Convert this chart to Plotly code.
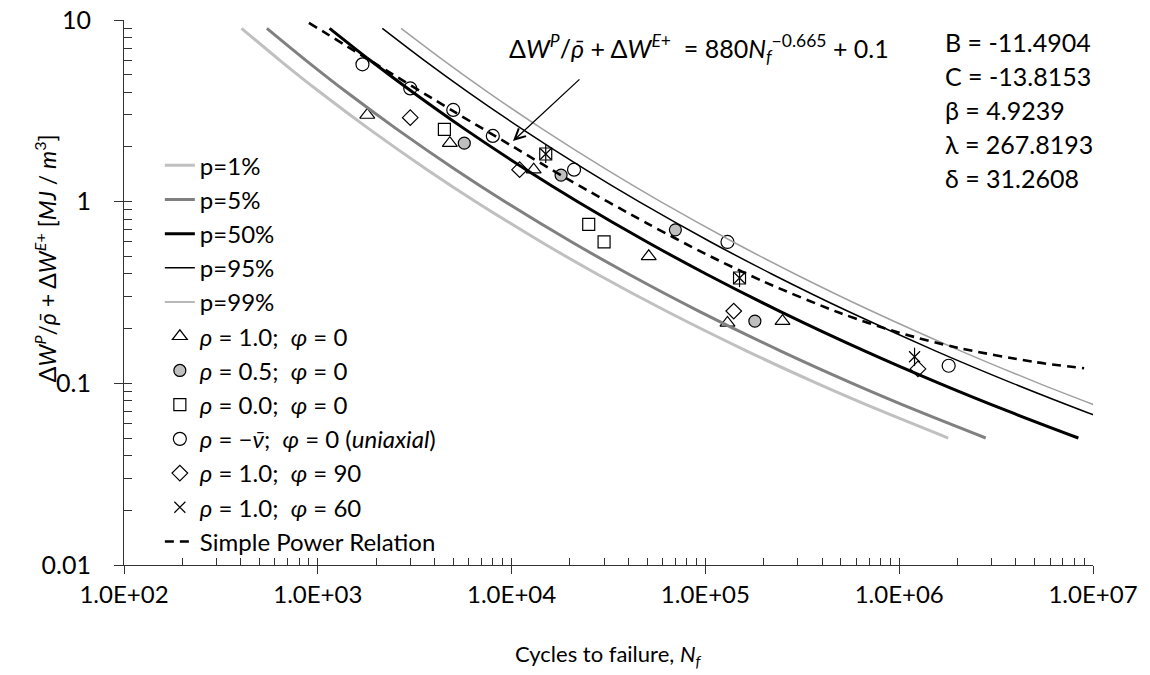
import plotly.graph_objects as go

FONT = "Lato"

# Energy levels (MJ/m^3) at which the probabilistic ESED-N curves are tabulated
W_LEVELS = [9, 6, 4, 2.5, 1.5, 1, 0.6, 0.4, 0.25, 0.15, 0.1, 0.07, 0.05]

# Cycles to failure of each probability curve at those energy levels
N_P01 = [404, 637, 1028, 1851, 3664, 6531, 14230, 27570, 62690, 164700, 376700, 820200, 1790000]
N_P05 = [546, 868, 1411, 2567, 5140, 9256, 20430, 40060, 92340, 246700, 572600, 1263000, 2795000]
N_P50 = [1150, 1861, 3092, 5763, 11890, 21940, 50040, 100900, 240900, 670700, 1612000, 3676000, 8405000]
N_P95 = [2153, 3542, 5986, 11400, 24090, 45390, 106500, 219900, 540700, 1557000, 3858000, 9045000, 21280000]
N_P99 = [2690, 4451, 7565, 14520, 30950, 58730, 139200, 289900, 720300, 2101000, 5258000, 12450000]

# Simple power relation 880*Nf^-0.665 + 0.1
N_POWER = [900, 2000, 5000, 1e4, 2e4, 5e4, 1e5, 2e5, 5e5, 1e6, 2e6, 5e6, 9e6]
W_POWER = [9.65, 5.71, 3.15, 2.03, 1.31, 0.760, 0.516, 0.363, 0.243, 0.190, 0.157, 0.131, 0.121]

# Experimental results
TRI_N = [1800, 4800, 13000, 51000, 130000, 250000]
TRI_W = [3.0, 2.1, 1.5, 0.5, 0.215, 0.22]
GRAY_N = [5700, 18000, 70000, 180000]
GRAY_W = [2.1, 1.4, 0.7, 0.22]
SQ_N = [4500, 15000, 25000, 30000, 150000]
SQ_W = [2.5, 1.83, 0.75, 0.6, 0.38]
CIRC_N = [1700, 3000, 5000, 8000, 21000, 130000, 1800000]
CIRC_W = [5.7, 4.2, 3.2, 2.3, 1.5, 0.6, 0.125]
DIA_N = [3000, 11000, 140000, 1250000]
DIA_W = [2.9, 1.5, 0.25, 0.12]
STAR_N = [15000, 150000, 1200000]
STAR_W = [1.83, 0.38, 0.14]

X_TICKS = [1e2, 1e3, 1e4, 1e5, 1e6, 1e7]
X_LABELS = ["1.0E+02", "1.0E+03", "1.0E+04", "1.0E+05", "1.0E+06", "1.0E+07"]
Y_TICKS = [0.01, 0.1, 1, 10]
Y_LABELS = ["0.01", "0.1", "1", "10"]

PARAM_LABELS = ["B = -11.4904", "C = -13.8153", "β = 4.9239", "λ = 267.8193", "δ = 31.2608"]

# inner tick marks: every decade and its 2..9 sub-divisions
def inner_ticks(decades):
    out = []
    for d in decades[:-1]:
        out += [d * k for k in range(1, 10)]
    return out + [decades[-1]]

fig = go.Figure()

def markers(x, y, name, symbol, size, color="black", rank=0, show=True, lw=1.2):
    fig.add_trace(go.Scatter(
        x=x, y=y, mode="markers", name=name, legendrank=rank, showlegend=show,
        marker=dict(symbol=symbol, size=size, color=color,
                    line=dict(color="black", width=lw)),
    ))

markers(TRI_N, TRI_W, "<i>ρ</i> = 1.0;  <i>φ</i> = 0", "triangle-up-open", 13, rank=6)
markers(GRAY_N, GRAY_W, "<i>ρ</i> = 0.5;  <i>φ</i> = 0", "circle", 12, color="#bfbfbf", rank=7)
markers(SQ_N, SQ_W, "<i>ρ</i> = 0.0;  <i>φ</i> = 0", "square-open", 12, rank=8)
markers(CIRC_N, CIRC_W, "<i>ρ</i> = −<i>ν̄</i>;  <i>φ</i> = 0 (<i>uniaxial</i>)", "circle-open", 13, rank=9)
markers(DIA_N, DIA_W, "<i>ρ</i> = 1.0;  <i>φ</i> = 90", "diamond-open", 12, rank=10)
markers(STAR_N, STAR_W, "<i>ρ</i> = 1.0;  <i>φ</i> = 60", "x-thin-open", 11, rank=11)
markers(STAR_N, STAR_W, "", "line-ns-open", 13, rank=11, show=False)

def curve(n, w, name, color, width, rank, dash="solid"):
    fig.add_trace(go.Scatter(
        x=n, y=w, mode="lines", name=name, legendrank=rank,
        line=dict(color=color, width=width, shape="spline", smoothing=0.8, dash=dash),
    ))

curve(N_P01, W_LEVELS, "p=1%", "#c0c0c0", 3, 1)
curve(N_P05, W_LEVELS, "p=5%", "#808080", 3, 2)
curve(N_P50, W_LEVELS, "p=50%", "#000000", 3, 3)
curve(N_P95, W_LEVELS, "p=95%", "#000000", 1.5, 4)
curve(N_P99, W_LEVELS[:len(N_P99)], "p=99%", "#a0a0a0", 1.5, 5)
curve(N_POWER, W_POWER, "Simple Power Relation", "#000000", 2.6, 12, dash="9px,6px")

# transparent carrier so the overlaid tick-mark axes get drawn
fig.add_trace(go.Scatter(x=N_P50, y=W_LEVELS, xaxis="x2", yaxis="y2", mode="lines",
                         line=dict(color="rgba(0,0,0,0)", width=0), showlegend=False,
                         hoverinfo="skip"))

axis_common = dict(type="log", showgrid=False, zeroline=False, linecolor="#333333",
                   linewidth=1, tickcolor="#333333", tickwidth=1, mirror=False,
                   automargin=False)

fig.update_layout(
    width=1150, height=675,
    margin=dict(l=124, r=57, t=20, b=110, autoexpand=False),
    plot_bgcolor="white", paper_bgcolor="white",
    font=dict(family=FONT, size=24, color="black"),
    xaxis=dict(**axis_common, range=[2, 7], showline=True, ticks="outside", ticklen=8,
               tickvals=X_TICKS, ticktext=X_LABELS, tickfont=dict(size=24)),
    yaxis=dict(**axis_common, range=[-2, 1], showline=True, ticks="outside", ticklen=9,
               tickvals=Y_TICKS, ticktext=Y_LABELS, tickfont=dict(size=25),
               ticklabelstandoff=18),
    # tick marks on the inner side of both axes
    xaxis2=dict(**axis_common, range=[2, 7], overlaying="x", anchor="y", side="bottom",
                ticks="inside", ticklen=7, tickvals=inner_ticks(X_TICKS),
                showticklabels=False, showline=False),
    yaxis2=dict(**axis_common, range=[-2, 1], overlaying="y", anchor="x", side="left",
                ticks="inside", ticklen=8, tickvals=inner_ticks(Y_TICKS),
                showticklabels=False, showline=False),
    legend=dict(x=0.037, y=0.774, xanchor="left", yanchor="top",
                bgcolor="rgba(0,0,0,0)", font=dict(family=FONT, size=24),
                traceorder="normal"),
)

annotations = [
    dict(text="Δ<i>W</i><sup><i>P</i></sup>/<i>ρ̄</i> + Δ<i>W</i><sup><i>E</i>+</sup>  = 880<i>N</i><sub><i>f</i></sub><sup>−0.665</sup> + 0.1",
         xref="paper", yref="paper", x=0.593, y=0.9486, xanchor="center", yanchor="middle",
         showarrow=False, font=dict(family=FONT, size=25)),
    dict(text="Cycles to failure, <i>N</i><sub><i>f</i></sub>",
         xref="paper", yref="paper", x=0.5, y=-0.165, xanchor="center", yanchor="middle",
         showarrow=False, font=dict(family=FONT, size=22)),
    dict(text="Δ<i>W</i><sup><i>P</i></sup>/<i>ρ̄</i> + Δ<i>W</i><sup><i>E</i>+</sup> [<i>MJ</i> / <i>m</i><sup>3</sup>]",
         xref="paper", yref="paper", x=-0.0815, y=0.563, xanchor="center", yanchor="middle",
         textangle=-90, showarrow=False, font=dict(family=FONT, size=23)),
    # arrow pointing at the power-relation curve
    dict(text="", xref="x", yref="y", x=4.007, y=0.334, ax=68, ay=-63,
         showarrow=True, arrowhead=5, arrowsize=1.6, arrowwidth=1.3, arrowcolor="black"),
]
for i, label in enumerate(PARAM_LABELS):
    annotations.append(dict(text=label, xref="paper", yref="paper",
                            x=0.845, y=(565 - (42 + 34 * i)) / 545,
                            xanchor="left", yanchor="middle", showarrow=False,
                            font=dict(family=FONT, size=25)))
fig.update_layout(annotations=annotations)

fig.write_html("out.html")
